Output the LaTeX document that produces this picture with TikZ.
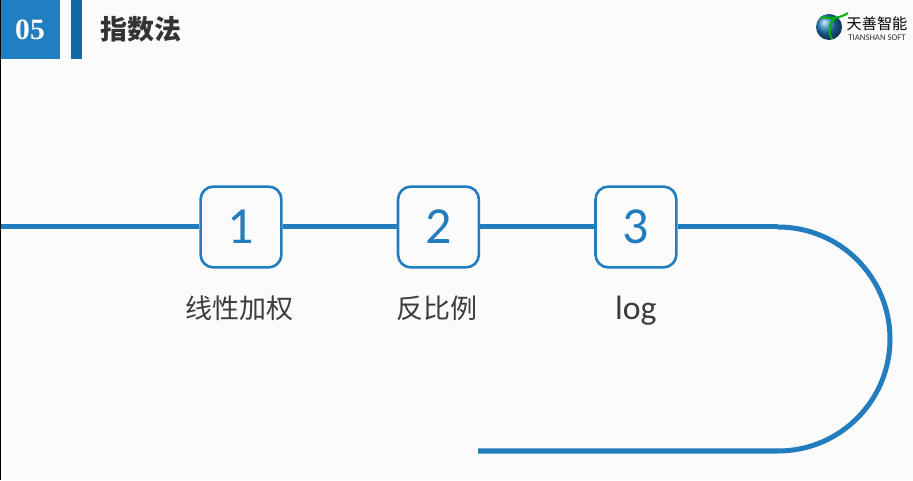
\documentclass[tikz,border=0pt]{standalone}
\usepackage{fontspec}
\usepackage{xcolor}
\usetikzlibrary{positioning}
\setmainfont{Carlito}
\newfontfamily\cjk{Noto Sans CJK SC}
\newfontfamily\serifnum{Liberation Serif}
\definecolor{trackblue}{HTML}{227DBF}
\definecolor{headblue}{HTML}{1F7FC1}
\definecolor{darkblue}{HTML}{0F6AA3}
\definecolor{paper}{HTML}{FBFBFB}
\definecolor{labelgray}{HTML}{3C3C3C}
\begin{document}
\begin{tikzpicture}[x=.025cm,y=.025cm,
		numbox/.style={draw=trackblue, fill=paper, line width=.065cm, rounded corners=.32cm, minimum size=2.02cm, inner sep=0pt, text=trackblue, font=\fontsize{37}{37}\selectfont},
		numlabel/.style={text=labelgray, inner sep=0pt, below=.68cm of #1, font=\cjk\fontsize{19.2}{19.2}\selectfont},
		track/.style={draw=trackblue, line width=.125cm}]
	\useasboundingbox (0,0) rectangle (913,480);
	\fill[paper] (0,0) rectangle (913,480);
	% header
	\node[fill=headblue, minimum width=1.5cm, minimum height=1.475cm, inner sep=0pt, text=paper, font=\serifnum\bfseries\fontsize{21}{21}\selectfont] (num) at (30,450.5) {05};
	\node[fill=darkblue, minimum width=.275cm, minimum height=1.475cm, inner sep=0pt] (bar) at (76.5,450.5) {};
	\node[right=.45cm of bar, inner sep=0pt, text=black!80, font=\cjk\bfseries\fontsize{19.2}{19.2}\selectfont] (title) {指数法};
	\fill[black] (0,0) rectangle (1,480);
	% logo
	\shade[ball color=trackblue] (829,453) circle (13);
	\draw[green!70!black, line width=.05cm] (821,463) .. controls (833,461) and (840,462) .. (848,467);
	\draw[green!70!black, line width=.05cm] (835,462) .. controls (829,456) and (828,448) .. (832,441);
	\node[inner sep=0pt, text=black, font=\cjk\fontsize{10.8}{10.8}\selectfont] (logoname) at (877,456) {天善智能};
	\node[inner sep=0pt, below=.08cm of logoname, text=black!80, font=\fontsize{6.2}{6.2}\selectfont] (logosub) {TIANSHAN SOFT};
	% steps
	\node[numbox] (one) at (241,253) {1};
	\node[numbox, right=2.85cm of one] (two) {2};
	\node[numbox, right=2.85cm of two] (three) {3};
	\node[numlabel=one, xshift=-.04cm] (onetext) {线性加权};
	\node[numlabel=two, xshift=-.03cm] (twotext) {反比例};
	\node[numlabel=three, font=\fontsize{24}{24}\selectfont] (threetext) {log};
	% line
	\coordinate (start) at (1,253);
	\coordinate (bend) at (778,253);
	\coordinate (stop) at (478,29);
	\draw[track] (start) -- (one);
	\draw[track] (one) -- (two);
	\draw[track] (two) -- (three);
	\draw[track] (three) -- (bend);
	\draw[track] (bend) arc[start angle=90, end angle=-90, radius=112] -- (stop);
\end{tikzpicture}
\end{document}
